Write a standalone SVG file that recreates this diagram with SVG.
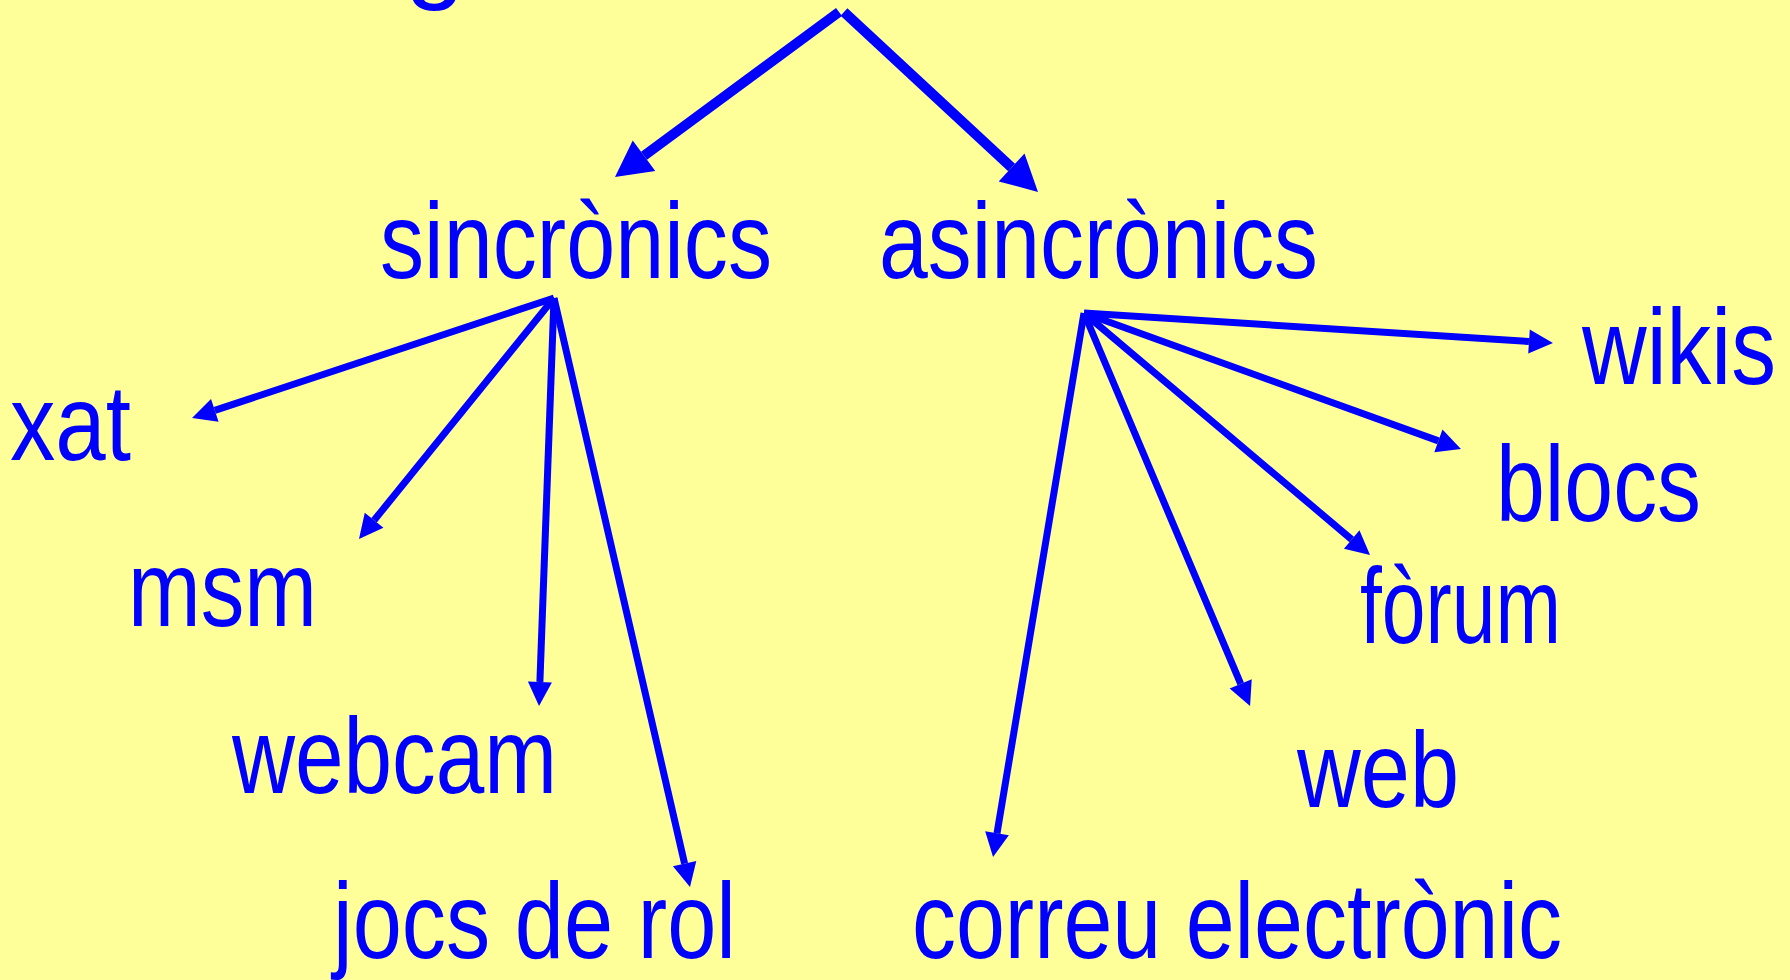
<svg xmlns="http://www.w3.org/2000/svg" width="1790" height="980" viewBox="0 0 1790 980">
<style>
.lbl{font-family:"Liberation Sans Narrow","Liberation Sans",Arial,sans-serif;font-size:108px;fill:#0000FF}
.thin{stroke:#0000FF;stroke-width:7;fill:none;marker-end:url(#ah)}
.thick{stroke:#0000FF;stroke-width:10;fill:none;marker-end:url(#ahBig)}
</style>
<defs>
<marker id="ah" markerUnits="userSpaceOnUse" viewBox="0 -12 24 24" markerWidth="24" markerHeight="24" refX="0" refY="0" orient="auto" overflow="visible">
<path d="M0,-12 L24,0 L0,12 Z" fill="#0000FF"/>
</marker>
<marker id="ahBig" markerUnits="userSpaceOnUse" viewBox="0 -19 36 38" markerWidth="36" markerHeight="38" refX="0" refY="0" orient="auto" overflow="visible">
<path d="M0,-19 L36,0 L0,19 Z" fill="#0000FF"/>
</marker>
</defs>
<rect x="0" y="0" width="1790" height="980" fill="#FFFF99"/>
<text class="lbl" x="405" y="-11" style="font-family:'Liberation Sans',Arial,sans-serif">g</text>
<g id="connectors">
<path class="thick" d="M839,12 L644,155.7"/>
<path class="thick" d="M844,12 L1011.6,167.5"/>
<path class="thin" d="M554,298 L214.8,410.4"/>
<path class="thin" d="M554,298 L374.1,520.3"/>
<path class="thin" d="M554,298 L539.9,682"/>
<path class="thin" d="M554,298 L684.6,863.6"/>
<path class="thin" d="M1084,313 L1529,341.5"/>
<path class="thin" d="M1084,313 L1438.4,440.9"/>
<path class="thin" d="M1084,313 L1351.7,539.5"/>
<path class="thin" d="M1084,313 L1240.7,683.9"/>
<path class="thin" d="M1084,313 L997,833.3"/>
</g>
<g id="sincronics"><text class="lbl" x="380" y="278" textLength="392" lengthAdjust="spacingAndGlyphs">sincrònics</text></g>
<g id="asincronics"><text class="lbl" x="879" y="278" textLength="439" lengthAdjust="spacingAndGlyphs">asincrònics</text></g>
<g id="xat"><text class="lbl" x="10" y="460" textLength="121" lengthAdjust="spacingAndGlyphs">xat</text></g>
<g id="msm"><text class="lbl" x="128" y="626" textLength="189" lengthAdjust="spacingAndGlyphs">msm</text></g>
<g id="webcam"><text class="lbl" x="232" y="793" textLength="325" lengthAdjust="spacingAndGlyphs">webcam</text></g>
<g id="jocs"><text class="lbl" x="333" y="958" textLength="403" lengthAdjust="spacingAndGlyphs">jocs de rol</text></g>
<g id="wikis"><text class="lbl" x="1582" y="384" textLength="194" lengthAdjust="spacingAndGlyphs">wikis</text></g>
<g id="blocs"><text class="lbl" x="1496" y="521" textLength="205" lengthAdjust="spacingAndGlyphs">blocs</text></g>
<g id="forum"><text class="lbl" x="1360" y="643" textLength="201" lengthAdjust="spacingAndGlyphs">fòrum</text></g>
<g id="web"><text class="lbl" x="1297" y="807" textLength="162" lengthAdjust="spacingAndGlyphs">web</text></g>
<g id="correu"><text class="lbl" x="912" y="958" textLength="650" lengthAdjust="spacingAndGlyphs">correu electrònic</text></g>
</svg>
